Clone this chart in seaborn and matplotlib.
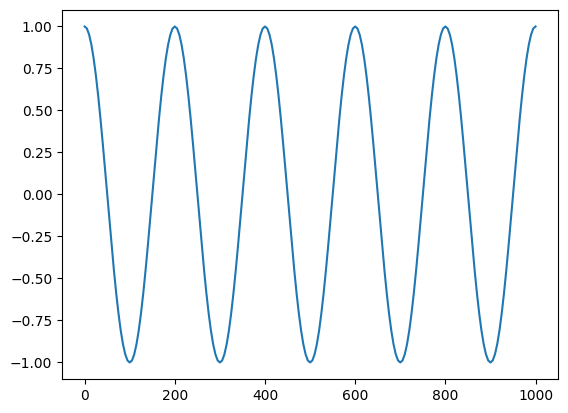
import matplotlib
matplotlib.use("Agg")
import matplotlib.pyplot as plt
import seaborn as sns

# --- Daten (Schrittweite 5) ---
x_vals = list(range(0, 1001, 5))
y_vals = [
    # 0 - 95
    1.000, 0.988, 0.951, 0.891, 0.809, 0.707, 0.588, 0.454, 0.309, 0.156,
    0.000, -0.156, -0.309, -0.454, -0.588, -0.707, -0.809, -0.891, -0.951, -0.988,
    # 100 - 195
    -1.000, -0.988, -0.951, -0.891, -0.809, -0.707, -0.588, -0.454, -0.309, -0.156,
    0.000, 0.156, 0.309, 0.454, 0.588, 0.707, 0.809, 0.891, 0.951, 0.988,
    # 200 - 295
    1.000, 0.988, 0.951, 0.891, 0.809, 0.707, 0.588, 0.454, 0.309, 0.156,
    0.000, -0.156, -0.309, -0.454, -0.588, -0.707, -0.809, -0.891, -0.951, -0.988,
    # 300 - 395
    -1.000, -0.988, -0.951, -0.891, -0.809, -0.707, -0.588, -0.454, -0.309, -0.156,
    0.000, 0.156, 0.309, 0.454, 0.588, 0.707, 0.809, 0.891, 0.951, 0.988,
    # 400 - 495
    1.000, 0.988, 0.951, 0.891, 0.809, 0.707, 0.588, 0.454, 0.309, 0.156,
    0.000, -0.156, -0.309, -0.454, -0.588, -0.707, -0.809, -0.891, -0.951, -0.988,
    # 500 - 595
    -1.000, -0.988, -0.951, -0.891, -0.809, -0.707, -0.588, -0.454, -0.309, -0.156,
    0.000, 0.156, 0.309, 0.454, 0.588, 0.707, 0.809, 0.891, 0.951, 0.988,
    # 600 - 695
    1.000, 0.988, 0.951, 0.891, 0.809, 0.707, 0.588, 0.454, 0.309, 0.156,
    0.000, -0.156, -0.309, -0.454, -0.588, -0.707, -0.809, -0.891, -0.951, -0.988,
    # 700 - 795
    -1.000, -0.988, -0.951, -0.891, -0.809, -0.707, -0.588, -0.454, -0.309, -0.156,
    0.000, 0.156, 0.309, 0.454, 0.588, 0.707, 0.809, 0.891, 0.951, 0.988,
    # 800 - 895
    1.000, 0.988, 0.951, 0.891, 0.809, 0.707, 0.588, 0.454, 0.309, 0.156,
    0.000, -0.156, -0.309, -0.454, -0.588, -0.707, -0.809, -0.891, -0.951, -0.988,
    # 900 - 995
    -1.000, -0.988, -0.951, -0.891, -0.809, -0.707, -0.588, -0.454, -0.309, -0.156,
    0.000, 0.156, 0.309, 0.454, 0.588, 0.707, 0.809, 0.891, 0.951, 0.988,
    # 1000
    1.000,
]

# --- Diagramm ---
fig, ax = plt.subplots(figsize=(6.4, 4.8))
sns.lineplot(x=x_vals, y=y_vals, ax=ax, color="#1f77b4", linewidth=1.5)
ax.set_xticks([0, 200, 400, 600, 800, 1000])
ax.set_yticks([-1.0, -0.75, -0.5, -0.25, 0.0, 0.25, 0.5, 0.75, 1.0])
plt.savefig("out.png", dpi=100, bbox_inches="tight")
plt.close()
